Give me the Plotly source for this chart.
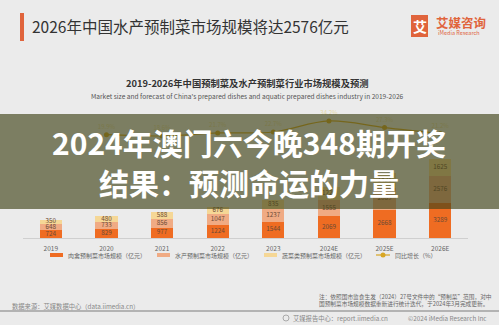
import plotly.graph_objects as go

# ---- data ----
years = ["2019", "2020", "2021", "2022", "2023", "2024E", "2025E", "2026E"]
meat_poultry = [724, 829, 977, 1224, 1544, 2069, 2668, 3289]
aquatic = [648, 733, 856, 1047, 1237, 1555, 2089, 2576]
vegetable = [350, 480, 588, 676, 835, 1229, 1421, 1625]
growth_years = ["2020", "2021", "2022", "2023", "2024E", "2025E", "2026E"]
growth_pct = [19.9, 18.6, 21.7, 22.7, 34.2, 27.3, 21.2]

series_names = [
    "肉禽预制菜市场规模（亿元）",
    "水产预制菜市场规模（亿元）",
    "蔬菜类预制菜市场规模（亿元）",
    "同比增长（%）",
]

# ---- styling ----
W, H = 499, 325
L, R, T, B = 23, 468, 110, 238
FONT = "Noto Sans CJK SC, Noto Sans, sans-serif"
ORANGE = "#ef6c22"
SALMON = "#f0ab84"
YELLOW = "#f5d796"
GOLD = "#d8a623"
BRAND = "#e0643c"
LABEL = "#6b4a35"


def px(x):
    return (x - L) / (R - L)


def py(y):
    return (B - y) / (B - T)


fig = go.Figure()

stack = [meat_poultry, aquatic, vegetable]
colors = [ORANGE, SALMON, YELLOW]
for vals, col, name in zip(stack, colors, series_names[:3]):
    fig.add_trace(go.Bar(
        x=years, y=vals, name=name, marker=dict(color=col, line=dict(width=0)),
        width=0.4, hoverinfo="skip", showlegend=False,
    ))

# segment value labels, centred in each stacked segment
base = [0] * len(years)
for vals in stack:
    mids = [b + v / 2 for b, v in zip(base, vals)]
    fig.add_trace(go.Scatter(
        x=years, y=mids, mode="text", text=[str(v) for v in vals],
        textfont=dict(size=6.3, color=LABEL, family=FONT),
        showlegend=False, hoverinfo="skip",
    ))
    base = [b + v for b, v in zip(base, vals)]

fig.add_trace(go.Scatter(
    x=growth_years, y=growth_pct, yaxis="y2", name=series_names[3],
    mode="lines+markers+text", text=[f"{v}%" for v in growth_pct],
    textposition="top center",
    textfont=dict(size=6, color="#e6d9a8", family=FONT),
    line=dict(color=GOLD, width=1.2, shape="spline"),
    marker=dict(color=GOLD, size=5),
    hoverinfo="skip", showlegend=False,
))

shapes = [
    # title accent bar
    dict(type="rect", xref="paper", yref="paper", x0=px(20), x1=px(24),
         y0=py(41), y1=py(13), fillcolor=BRAND, line=dict(width=0)),
    # brand mark
    dict(type="rect", xref="paper", yref="paper", x0=px(411), x1=px(428),
         y0=py(37), y1=py(15), fillcolor=BRAND, line=dict(width=0)),
    # headline band
    dict(type="rect", xref="paper", yref="paper", x0=px(0), x1=px(499),
         y0=py(209), y1=py(114), fillcolor="rgba(65,67,24,0.65)",
         line=dict(width=0), layer="above"),
    # footer rule
    dict(type="line", xref="paper", yref="paper", x0=px(0), x1=px(499),
         y0=py(311), y1=py(311), line=dict(color="#b3b3b3", width=2)),
    # footer icon
    dict(type="circle", xref="paper", yref="paper", x0=px(283), x1=px(289),
         y0=py(321), y1=py(315), line=dict(color="#999", width=0.8)),
]

# legend row: swatches and labels
LEG_Y = 255
bar_swatch_x = [50, 157, 264]
for x0, col in zip(bar_swatch_x, colors):
    shapes.append(dict(type="rect", xref="paper", yref="paper",
                       x0=px(x0), x1=px(x0 + 13), y0=py(LEG_Y + 2),
                       y1=py(LEG_Y - 2), fillcolor=col, line=dict(width=0)))
shapes.append(dict(type="line", xref="paper", yref="paper",
                   x0=px(376), x1=px(390), y0=py(LEG_Y), y1=py(LEG_Y),
                   line=dict(color=GOLD, width=1.2)))
shapes.append(dict(type="circle", xref="paper", yref="paper",
                   x0=px(380.5), x1=px(385.5), y0=py(LEG_Y + 2.5),
                   y1=py(LEG_Y - 2.5), fillcolor=GOLD, line=dict(width=0)))
legend_text_x = [66, 173, 280, 393]


def note(text, x, y, size, color="#333", anchor="center", bold=False):
    return dict(text=text, x=px(x), y=py(y), xref="paper", yref="paper",
                xanchor=anchor, yanchor="middle", showarrow=False,
                font=dict(size=size, color=color, family=FONT,
                          weight="bold" if bold else "normal"))


annotations = [
    note("2026年中国水产预制菜市场规模将达2576亿元", 30, 26, 15.5, "#333", "left"),
    note("艾", 419.5, 26, 14, "white", bold=True),
    note("艾媒咨询", 434, 22, 12.5, BRAND, "left", bold=True),
    note("iMedia Research", 436, 33, 5.5, BRAND, "left"),
    note("2019-2026年中国预制菜及水产预制菜行业市场规模及预测", 247, 83, 9.3, "#333", bold=True),
    note("Market size and forecast of China's prepared dishes and aquatic prepared dishes industry in 2019-2026",
         247, 96, 6.6, "#555"),
    note("2024年澳门六今晚348期开奖", 249, 142, 30, "white", bold=True),
    note("结果：预测命运的力量", 249, 182, 30, "white", bold=True),
    note("数据来源：艾媒数据中心（data.iimedia.cn）", 10, 306, 6.3, "#888", "left"),
    note("注：依照国市监食生发（2024）27号文件中的“预制菜”范围，对中", 317, 296, 5.7, "#666", "left"),
    note("国预制菜市场规模数据重新进行统计迭代，于2024年3月完成更新。", 317, 303, 5.7, "#666", "left"),
    note("艾媒报告中心：report.iimedia.cn", 291, 318, 6.3, "#888", "left"),
    note("©2024 iMedia Research Inc", 489, 318, 6.3, "#888", "right"),
]
for name, x in zip(series_names, legend_text_x):
    annotations.append(note(name, x, LEG_Y, 6, "#666", "left"))

fig.update_layout(
    width=W, height=H,
    margin=dict(l=L, r=W - R, t=T, b=H - B, pad=0),
    paper_bgcolor="#ebebeb", plot_bgcolor="#ebebeb",
    barmode="stack",
    font=dict(family=FONT, color="#666"),
    xaxis=dict(showline=True, linecolor="#cfcfcf", linewidth=1,
               ticks="outside", ticklen=4, tickcolor="rgba(0,0,0,0)",
               showgrid=False, tickfont=dict(size=6.5, color="#666"),
               fixedrange=True),
    yaxis=dict(range=[0, 12136], showgrid=False, zeroline=False,
               showticklabels=False, showline=False, fixedrange=True),
    yaxis2=dict(range=[-87.7, 45.6], overlaying="y", side="right",
                showgrid=False, zeroline=False, showticklabels=False,
                showline=False, fixedrange=True),
    showlegend=False,
    shapes=shapes,
    annotations=annotations,
)

fig.write_html("out.html")
